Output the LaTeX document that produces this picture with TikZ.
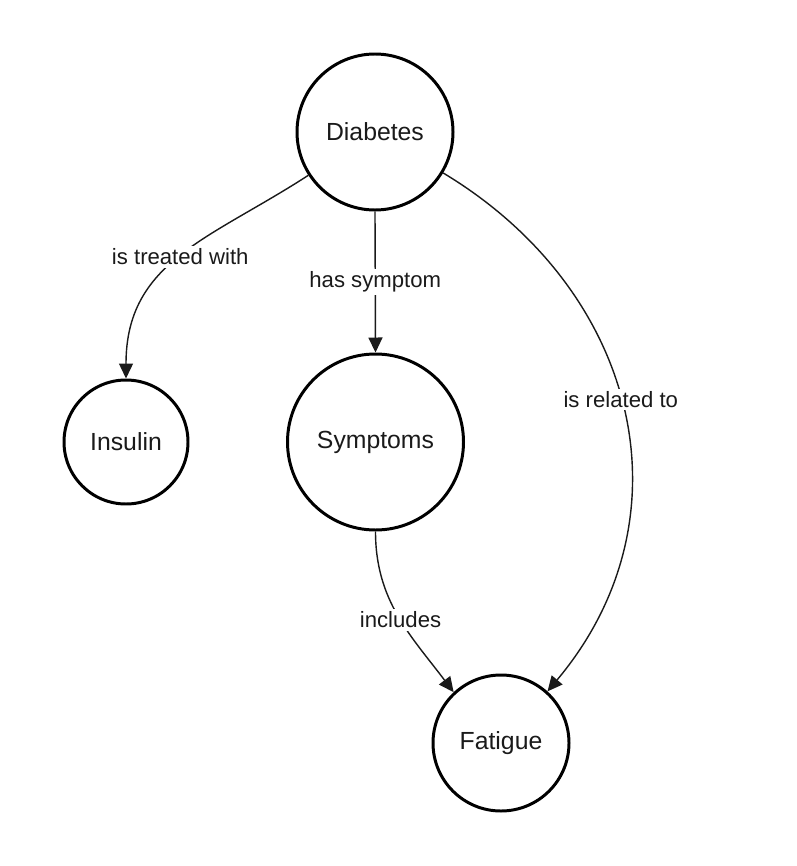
\documentclass[tikz,border=0pt]{standalone}
\usepackage{fontspec}
\setmainfont{Liberation Sans}
\usetikzlibrary{arrows.meta}
\definecolor{ink}{HTML}{1A1A1A}

\begin{document}
\begin{tikzpicture}[
    concept/.style={draw=black, circle, line width=1.7pt, inner sep=0,
      font=\fontsize{14.1}{16}\selectfont, text=ink},
    link/.style={-{Triangle[length=0.3cm, width=0.28cm]}, line width=0.8pt, color=ink},
    tag/.style={fill=white, inner sep=1.5pt, font=\fontsize{12.6}{14}\selectfont, text=ink}]
    \useasboundingbox (0,0) rectangle (15.92,-17.32);
    \node[concept, minimum size=3.12cm] (diabetes) at (7.5,-2.64) {Diabetes};
    \node[concept, minimum size=2.48cm] (insulin) at (2.52,-8.84) {Insulin};
    \node[concept, minimum size=3.52cm] (symptoms) at (7.51,-8.84) {Symptoms};
    \node[concept, minimum size=2.72cm] (fatigue) at (10.02,-14.86) {Fatigue};
    \draw[link] (diabetes.213) to[out=213, in=90, looseness=1.1]
      node[tag, pos=0.5] {is treated with} (insulin.north);
    \draw[link] (diabetes.south) -- node[tag] {has symptom} (symptoms.north);
    \draw[link] (symptoms.south) to[out=270, in=127]
      node[tag, pos=0.52] {includes} (fatigue.133);
    \draw[link] (diabetes.-31) to[out=-31, in=50, looseness=1.1]
      node[tag, pos=0.48] {is related to} (fatigue.48);
\end{tikzpicture}
\end{document}
